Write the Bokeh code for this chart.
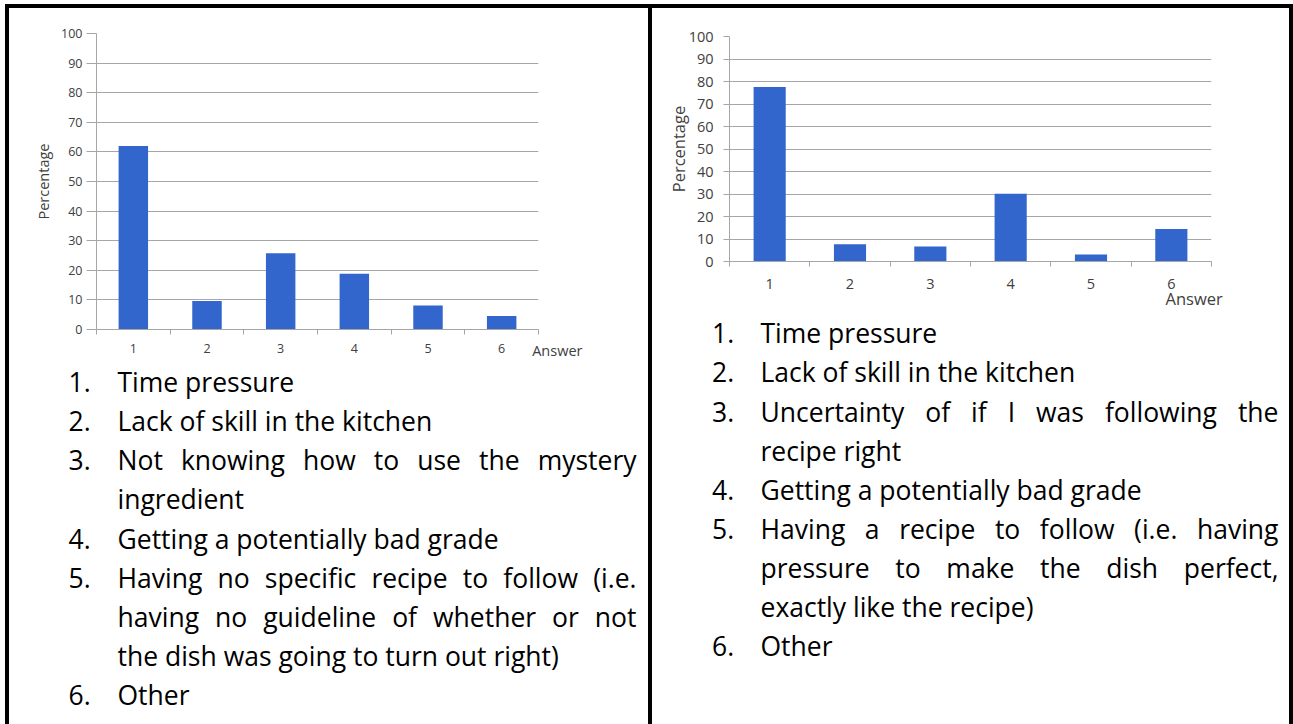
import glob
import os
import subprocess

from bokeh.core.properties import value
from bokeh.embed import file_html
from bokeh.layouts import column, row
from bokeh.models import Div, FixedTicker, Range1d
from bokeh.plotting import figure
from bokeh.resources import INLINE

# ---------------------------------------------------------------- data
answers = [1, 2, 3, 4, 5, 6]
pct_first = [62.0, 9.6, 25.8, 18.8, 8.1, 4.6]
pct_second = [77.6, 7.7, 6.7, 30.1, 3.1, 14.4]
y_ticks = [0, 10, 20, 30, 40, 50, 60, 70, 80, 90, 100]

reasons_first = [
    ["Time pressure"],
    ["Lack of skill in the kitchen"],
    ["Not knowing how to use the mystery", "ingredient"],
    ["Getting a potentially bad grade"],
    ["Having no specific recipe to follow (i.e.",
     "having no guideline of whether or not",
     "the dish was going to turn out right)"],
    ["Other"],
]
reasons_second = [
    ["Time pressure"],
    ["Lack of skill in the kitchen"],
    ["Uncertainty of if I was following the", "recipe right"],
    ["Getting a potentially bad grade"],
    ["Having a recipe to follow (i.e. having",
     "pressure to make the dish perfect,",
     "exactly like the recipe)"],
    ["Other"],
]

# ---------------------------------------------------------------- styles
BAR = "#3366CC"
GRID = "#A6A6A6"
CHART_TEXT = "#404040"
CHART_FONT = "Open Sans"
LIST_FONT = "Open Sans"
LIST_SIZE = 26.5
BASELINE_FIX = 0.377   # lift per px of font size for alphabetic-baseline text


def font_file(family):
    key = family.replace(" ", "").lower()
    try:
        out = subprocess.run(["fc-match", "-f", "%{file}", family],
                             capture_output=True, text=True, timeout=5).stdout.strip()
        if out and os.path.exists(out) and key in os.path.basename(out).lower():
            return out
    except Exception:
        pass
    for root in ("/usr/share/fonts", "/usr/local/share/fonts",
                 os.path.expanduser("~/.fonts"), os.path.expanduser("~/.local/share/fonts")):
        hits = sorted(glob.glob(os.path.join(root, "**", "*.[to]tf"), recursive=True))
        for h in hits:
            name = os.path.basename(h).lower()
            if name.startswith(key) and ("regular" in name or "[" in name):
                return h
    return None


def make_measure(family, size):
    try:
        from PIL import ImageFont
        path = font_file(family)
        if path:
            f = ImageFont.truetype(path, size)
            return lambda s: f.getlength(s)
    except Exception:
        pass
    return lambda s: 0.55 * size * len(s)


measure = make_measure(LIST_FONT, LIST_SIZE)


def bar_chart(values, width, height, borders, tick_px, title_px, ytick_out,
              xlabel_standoff, ylabel_standoff, title_standoff):
    b_left, b_right, b_top, b_bottom = borders
    p = figure(width=width, height=height, x_range=Range1d(0.5, 6.5), y_range=Range1d(0, 100),
               output_backend="svg", toolbar_location=None, frame_align=False,
               min_border_left=b_left, min_border_right=b_right,
               min_border_top=b_top, min_border_bottom=b_bottom,
               outline_line_color=None)
    p.vbar(x=answers, top=values, width=0.4, fill_color=BAR, line_color=None)

    bounds = [a - 0.5 for a in answers] + [answers[-1] + 0.5]
    xa = p.xaxis[0]
    xa.ticker = FixedTicker(ticks=answers, minor_ticks=bounds)
    xa.major_tick_out = 0
    xa.major_tick_in = 0
    xa.minor_tick_out = 5
    xa.minor_tick_in = 0
    xa.minor_tick_line_color = GRID
    xa.axis_line_color = GRID
    xa.major_label_standoff = xlabel_standoff
    xa.major_label_text_font = CHART_FONT
    xa.major_label_text_font_size = tick_px
    xa.major_label_text_color = CHART_TEXT

    ya = p.yaxis[0]
    ya.ticker = FixedTicker(ticks=y_ticks)
    ya.major_tick_out = ytick_out
    ya.major_tick_in = 0
    ya.major_tick_line_color = GRID
    ya.minor_tick_line_color = None
    ya.axis_line_color = GRID
    ya.major_label_standoff = ylabel_standoff
    ya.major_label_text_font = CHART_FONT
    ya.major_label_text_font_size = tick_px
    ya.major_label_text_color = CHART_TEXT
    ya.axis_label = "Percentage"
    ya.axis_label_text_font = CHART_FONT
    ya.axis_label_text_font_size = title_px
    ya.axis_label_text_font_style = "normal"
    ya.axis_label_text_color = CHART_TEXT
    ya.axis_label_standoff = title_standoff

    p.xgrid.visible = False
    p.ygrid.ticker = FixedTicker(ticks=y_ticks)
    p.ygrid.grid_line_color = GRID
    return p


def text_panel(items, x0, x1, y0, y1, overlap, num_x, text_x, right_x, base_y, step,
               answer_at, answer_px):
    # transparent panel that slides up over the bottom of the chart above it
    p = figure(width=x1 - x0, height=y1 - y0, x_range=Range1d(x0, x1), y_range=Range1d(y1, y0),
               output_backend="svg", toolbar_location=None, min_border=0, frame_align=False,
               x_axis_type=None, y_axis_type=None, outline_line_color=None,
               background_fill_color=None, border_fill_color=None,
               margin=(-overlap, 0, 0, 0))
    lift = BASELINE_FIX * LIST_SIZE
    lx, ly, lt = [], [], []   # left-aligned pieces
    rx, ry, rt = [], [], []   # closing words of justified lines
    line = 0
    for k, lines in enumerate(items, 1):
        lx.append(num_x)
        ly.append(base_y + line * step - lift)
        lt.append(f"{k}.")
        for j, ln in enumerate(lines):
            y = base_y + line * step - lift
            if j < len(lines) - 1:
                words = ln.split()
                widths = [measure(w) for w in words]
                gap = (right_x - text_x - sum(widths)) / (len(words) - 1)
                x = text_x
                for w, wd in zip(words[:-1], widths[:-1]):
                    lx.append(x)
                    ly.append(y)
                    lt.append(w)
                    x += wd + gap
                rx.append(right_x)
                ry.append(y)
                rt.append(words[-1])
            else:
                lx.append(text_x)
                ly.append(y)
                lt.append(ln)
            line += 1
    common = dict(text_font=value(LIST_FONT), text_font_size=f"{LIST_SIZE}px",
                  text_color="black", text_baseline="alphabetic")
    p.text(x=lx, y=ly, text=lt, text_align="left", **common)
    p.text(x=rx, y=ry, text=rt, text_align="right", **common)

    # x-axis title sitting beside / under the last category
    ax, ay = answer_at
    p.text(x=[ax], y=[ay - BASELINE_FIX * answer_px], text=["Answer"],
           text_font=value(CHART_FONT), text_font_size=f"{answer_px}px",
           text_color=CHART_TEXT, text_align="left", text_baseline="alphabetic")
    return p


def block(w, h, color=None):
    styles = {"background-color": color} if color else {}
    return Div(width=w, height=h, margin=0, styles=styles)


# ---------------------------------------------------------------- panels
chart_a = bar_chart(pct_first, 639, 354, (87, 110, 25, 33), "12.5px", "14.5px", 10, 9, 4, 5)
chart_b = bar_chart(pct_second, 637, 306, (77, 78, 28, 53), "14.5px", "16.5px", 6, 12, 10, -4)

list_a = text_panel(reasons_first, 9, 648, 317, 724, 45, 68, 117, 636, 391.6, 39.1,
                    (531.7, 355.0), 14.5)
list_b = text_panel(reasons_second, 652, 1289, 269, 724, 45, 711.5, 760, 1278, 342.8, 39.1,
                    (1165.0, 304.3), 16.5)

body = row(block(5, 716), block(4, 716, "black"),
           column(chart_a, list_a, spacing=0),
           block(4, 716, "black"),
           column(chart_b, list_b, spacing=0),
           block(4, 716, "black"), spacing=0)
page = column(block(1293, 4),
              row(block(5, 4), block(1288, 4, "black"), spacing=0),
              body, spacing=0)

open("out.html", "w").write(file_html(page, INLINE))
